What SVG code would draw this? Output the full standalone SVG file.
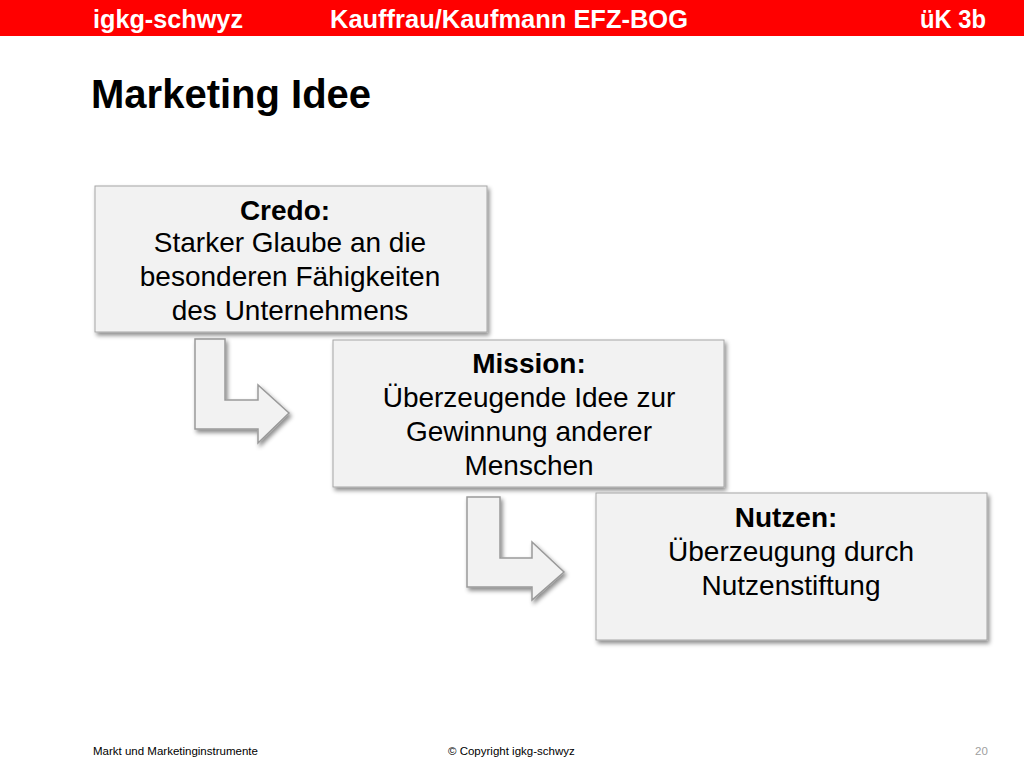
<svg xmlns="http://www.w3.org/2000/svg" width="1024" height="768" viewBox="0 0 1024 768">
<style>
.hdr{font-family:"Liberation Sans",Arial,sans-serif;font-weight:bold;font-size:25px;fill:#fff}
.title{font-family:"Liberation Sans",Arial,sans-serif;font-weight:bold;font-size:40px;fill:#000}
.box{fill:#f2f2f2;stroke:#a6a6a6;stroke-width:1}
.arr{fill:#f2f2f2;stroke:#9a9a9a;stroke-width:1.5}
.t{font-family:"Liberation Sans",Arial,sans-serif;font-size:28px;fill:#000;text-anchor:middle}
.b{font-weight:bold}
.foot{font-family:"Liberation Sans",Arial,sans-serif;font-size:11.5px;fill:#000}
</style>
<defs>
<filter id="sh" x="-10%" y="-10%" width="125%" height="130%">
<feDropShadow dx="2" dy="3" stdDeviation="2" flood-color="#000" flood-opacity="0.45"/>
</filter>
</defs>
<rect x="0" y="0" width="1024" height="36" fill="#ff0000"/>
<text class="hdr" x="93" y="28" textLength="150" lengthAdjust="spacingAndGlyphs">igkg-schwyz</text>
<text class="hdr" x="330" y="28" textLength="358" lengthAdjust="spacingAndGlyphs">Kauffrau/Kaufmann EFZ-BOG</text>
<text class="hdr" x="920" y="28" textLength="66" lengthAdjust="spacingAndGlyphs">üK 3b</text>
<text class="title" x="91" y="108">Marketing Idee</text>
<g id="connectors">
<path class="arr" filter="url(#sh)" d="M195,339 L225,339 L225,400 L258,400 L258,385 L289,413 L258,443 L258,429 L195,429 Z"/>
<path class="arr" filter="url(#sh)" d="M467,497 L500,497 L500,558 L532,558 L532,542 L564,572 L532,600 L532,587 L467,587 Z"/>
</g>
<g id="credo">
<rect class="box" filter="url(#sh)" x="95" y="186" width="392" height="146"/>
<text class="t b" x="285" y="220">Credo:</text>
<text class="t" x="290" y="252">Starker Glaube an die</text>
<text class="t" x="290" y="286">besonderen Fähigkeiten</text>
<text class="t" x="290" y="320">des Unternehmens</text>
</g>
<g id="mission">
<rect class="box" filter="url(#sh)" x="333" y="340" width="391" height="147"/>
<text class="t b" x="529" y="373">Mission:</text>
<text class="t" x="529" y="407">Überzeugende Idee zur</text>
<text class="t" x="529" y="441">Gewinnung anderer</text>
<text class="t" x="529" y="475">Menschen</text>
</g>
<g id="nutzen">
<rect class="box" filter="url(#sh)" x="596" y="493" width="391" height="147"/>
<text class="t b" x="786" y="527">Nutzen:</text>
<text class="t" x="791" y="561">Überzeugung durch</text>
<text class="t" x="791" y="595">Nutzenstiftung</text>
</g>
<text class="foot" x="93" y="755">Markt und Marketinginstrumente</text>
<text class="foot" x="448" y="755">© Copyright igkg-schwyz</text>
<text class="foot" x="975" y="755" style="fill:#a0a0a0">20</text>
</svg>
